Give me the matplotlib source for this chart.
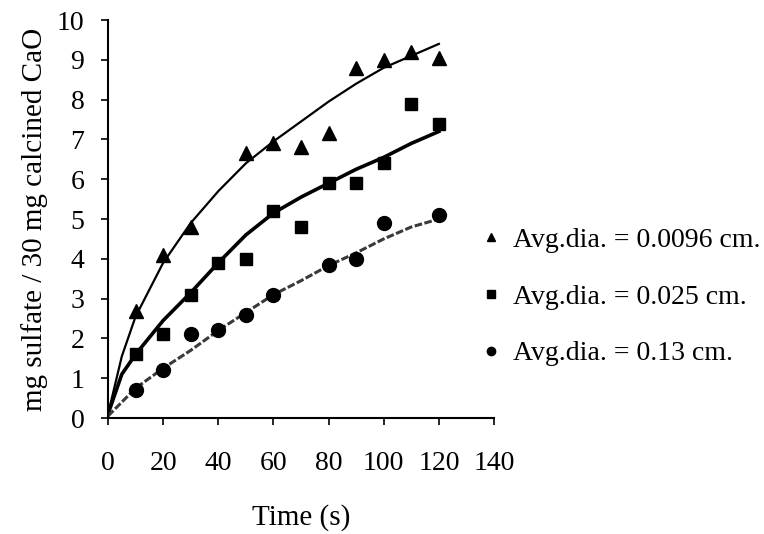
import matplotlib
matplotlib.use("Agg")
import matplotlib.pyplot as plt

# measured points, mg sulfate per 30 mg calcined CaO
tri_t = [10, 20, 30, 50, 60, 70, 80, 90, 100, 110, 120]
tri_y = [2.7, 4.1, 4.8, 6.65, 6.9, 6.8, 7.15, 8.8, 9.0, 9.2, 9.05]

sq_t = [10, 20, 30, 40, 50, 60, 70, 80, 90, 100, 110, 120]
sq_y = [1.6, 2.1, 3.1, 3.9, 4.0, 5.2, 4.8, 5.9, 5.9, 6.4, 7.9, 7.4]

cir_t = [10, 20, 30, 40, 50, 60, 80, 90, 100, 120]
cir_y = [0.7, 1.2, 2.1, 2.2, 2.6, 3.1, 3.85, 4.0, 4.9, 5.1]

# fitted curves
tri_fit_t = [0, 5, 10, 20, 30, 40, 50, 60, 70, 80, 90, 100, 110, 120]
tri_fit_y = [0.1, 1.55, 2.55, 3.9, 4.9, 5.7, 6.4, 6.95, 7.45, 7.95, 8.4, 8.8, 9.1, 9.4]

sq_fit_t = [0, 5, 10, 20, 30, 40, 50, 60, 70, 80, 90, 100, 110, 120]
sq_fit_y = [0.1, 1.1, 1.6, 2.45, 3.15, 3.9, 4.6, 5.15, 5.55, 5.9, 6.25, 6.55, 6.9, 7.2]

cir_fit_t = [0, 10, 20, 30, 40, 50, 60, 70, 80, 90, 100, 110, 120]
cir_fit_y = [0.05, 0.75, 1.25, 1.7, 2.2, 2.65, 3.1, 3.45, 3.83, 4.15, 4.5, 4.8, 5.0]

labels = ["Avg.dia. = 0.0096 cm.", "Avg.dia. = 0.025 cm.", "Avg.dia. = 0.13 cm."]

plt.rcParams['font.family'] = ['Liberation Serif', 'DejaVu Serif']

fig = plt.figure(figsize=(7.64, 5.34), dpi=100)
ax = fig.add_axes([0.1414, 0.2172, 0.5052, 0.7453])

ax.plot(tri_fit_t, tri_fit_y, color='black', lw=1.6, zorder=2)
ax.plot(sq_fit_t, sq_fit_y, color='black', lw=2.6, zorder=2)
ax.plot(cir_fit_t, cir_fit_y, color='#3a3a3a', lw=2.2, ls=(0, (2.5, 0.8)), zorder=2)

h1, = ax.plot(tri_t, tri_y, '^', color='black', ms=10, ls='none', zorder=3)
h2, = ax.plot(sq_t, sq_y, 's', color='black', ms=8.5, ls='none', zorder=3)
h3, = ax.plot(cir_t, cir_y, 'o', color='black', ms=10, ls='none', zorder=3)

ax.set_xlim(0, 140)
ax.set_ylim(0, 10)
ax.set_xticks(range(0, 141, 20))
ax.set_yticks(range(0, 11))
ax.spines['top'].set_visible(False)
ax.spines['right'].set_visible(False)
for s in ['left', 'bottom']:
    ax.spines[s].set_linewidth(1.5)
ax.tick_params(direction='out', length=5, width=1.2, labelsize=20)
ax.tick_params(axis='x', pad=19)
ax.tick_params(axis='y', pad=12)

ax.set_xlabel("Time (s)", fontsize=21, labelpad=20)
ax.set_ylabel("mg sulfate / 30 mg calcined CaO", fontsize=21, labelpad=6)

ax.legend([h1, h2, h3], labels, loc='center left', bbox_to_anchor=(0.632, 0.444),
          bbox_transform=fig.transFigure, frameon=False, fontsize=20,
          markerscale=0.6, handlelength=0.6, handletextpad=0.5,
          labelspacing=1.13, borderpad=0, borderaxespad=0)

fig.savefig("out.png", dpi=100)
